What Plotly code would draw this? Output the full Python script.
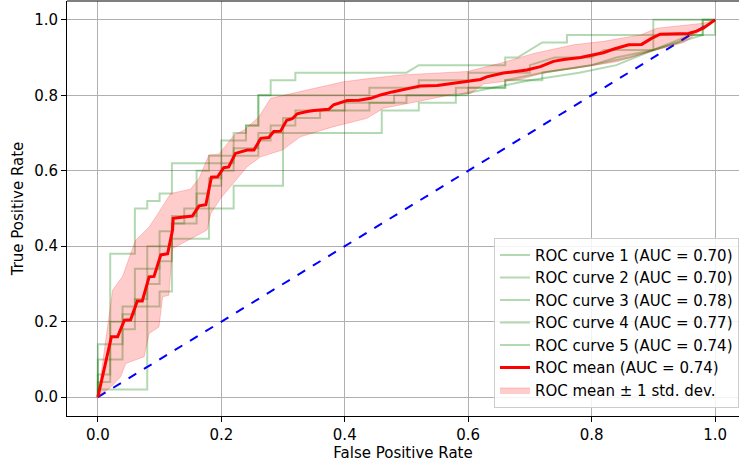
import plotly.graph_objects as go

# ---------------- data ----------------
curve_names = ["ROC curve 1 (AUC = 0.70)", "ROC curve 2 (AUC = 0.70)",
               "ROC curve 3 (AUC = 0.78)", "ROC curve 4 (AUC = 0.77)",
               "ROC curve 5 (AUC = 0.74)"]

c1_fpr = [0, 0, 0.08, 0.08, 0.10, 0.10, 0.12, 0.12, 0.18, 0.18, 0.22, 0.22, 0.30, 0.30, 0.46, 0.46, 0.52, 0.52, 0.58, 0.58, 0.64, 0.70, 0.78, 0.84, 0.90, 0.96, 0.98, 0.98, 1.0]
c1_tpr = [0, 0.02, 0.02, 0.24, 0.24, 0.28, 0.28, 0.42, 0.42, 0.50, 0.50, 0.56, 0.56, 0.70, 0.70, 0.76, 0.76, 0.78, 0.78, 0.80, 0.82, 0.84, 0.86, 0.88, 0.92, 0.96, 0.96, 1.0, 1.0]

c2_fpr = [0, 0, 0.02, 0.02, 0.04, 0.04, 0.06, 0.06, 0.08, 0.08, 0.10, 0.10, 0.12, 0.12, 0.16, 0.16, 0.18, 0.18, 0.20, 0.20, 0.22, 0.22, 0.26, 0.26, 0.30, 0.30, 0.36, 0.36, 0.44, 0.44, 0.50, 0.50, 0.58, 0.58, 0.66, 0.66, 0.72, 0.72, 0.80, 0.86, 0.90, 0.94, 0.98, 0.98, 1.0]
c2_tpr = [0, 0.10, 0.10, 0.14, 0.14, 0.22, 0.22, 0.26, 0.26, 0.34, 0.34, 0.40, 0.40, 0.46, 0.46, 0.54, 0.54, 0.58, 0.58, 0.62, 0.62, 0.66, 0.66, 0.70, 0.70, 0.74, 0.74, 0.76, 0.76, 0.78, 0.78, 0.80, 0.80, 0.82, 0.82, 0.84, 0.84, 0.86, 0.88, 0.90, 0.92, 0.94, 0.96, 1.0, 1.0]

c3_fpr = [0, 0, 0.02, 0.02, 0.06, 0.06, 0.08, 0.08, 0.10, 0.10, 0.12, 0.12, 0.20, 0.20, 0.22, 0.22, 0.24, 0.24, 0.26, 0.26, 0.28, 0.28, 0.32, 0.32, 0.50, 0.52, 0.66, 0.66, 0.68, 0.72, 0.76, 0.76, 0.90, 0.90, 1.0]
c3_tpr = [0, 0.04, 0.04, 0.38, 0.38, 0.50, 0.50, 0.52, 0.52, 0.54, 0.54, 0.62, 0.62, 0.68, 0.68, 0.70, 0.70, 0.72, 0.72, 0.80, 0.80, 0.84, 0.84, 0.86, 0.86, 0.88, 0.88, 0.90, 0.90, 0.94, 0.94, 0.96, 0.96, 1.0, 1.0]

c4_fpr = [0, 0, 0.02, 0.02, 0.04, 0.04, 0.06, 0.06, 0.08, 0.08, 0.10, 0.10, 0.12, 0.12, 0.16, 0.16, 0.18, 0.18, 0.22, 0.22, 0.24, 0.24, 0.26, 0.26, 0.44, 0.44, 0.52, 0.52, 0.60, 0.60, 0.70, 0.70, 0.74, 0.80, 0.82, 0.90, 0.90, 0.96, 0.98, 1.0]
c4_tpr = [0, 0.14, 0.14, 0.20, 0.20, 0.24, 0.24, 0.34, 0.34, 0.40, 0.40, 0.44, 0.44, 0.48, 0.48, 0.60, 0.60, 0.64, 0.64, 0.68, 0.68, 0.72, 0.72, 0.80, 0.80, 0.82, 0.82, 0.84, 0.84, 0.86, 0.86, 0.88, 0.90, 0.90, 0.92, 0.92, 0.96, 0.96, 0.98, 1.0]

c5_fpr = [0, 0, 0.02, 0.02, 0.04, 0.04, 0.06, 0.06, 0.08, 0.08, 0.10, 0.10, 0.12, 0.12, 0.14, 0.14, 0.18, 0.18, 0.20, 0.20, 0.22, 0.22, 0.26, 0.26, 0.28, 0.28, 0.32, 0.32, 0.40, 0.40, 0.48, 0.48, 0.60, 0.60, 0.66, 0.66, 0.72, 0.80, 0.84, 0.90, 0.94, 0.96, 1.0, 1.0]
c5_tpr = [0, 0.06, 0.06, 0.10, 0.10, 0.18, 0.18, 0.24, 0.24, 0.30, 0.30, 0.36, 0.36, 0.46, 0.46, 0.50, 0.50, 0.56, 0.56, 0.60, 0.60, 0.64, 0.64, 0.68, 0.68, 0.72, 0.72, 0.76, 0.76, 0.78, 0.78, 0.80, 0.80, 0.82, 0.82, 0.84, 0.86, 0.88, 0.90, 0.92, 0.94, 0.96, 0.96, 1.0]

mean_fpr = [0, 0.022, 0.032, 0.043, 0.053, 0.064, 0.072, 0.083, 0.091, 0.102, 0.113, 0.121, 0.122, 0.153, 0.164, 0.175, 0.184, 0.194, 0.204, 0.212, 0.223, 0.242, 0.253, 0.264, 0.277, 0.285, 0.296, 0.306, 0.315, 0.323, 0.339, 0.35, 0.374, 0.382, 0.404, 0.423, 0.442, 0.458, 0.477, 0.523, 0.55, 0.582, 0.604, 0.62, 0.63, 0.657, 0.695, 0.717, 0.738, 0.755, 0.782, 0.819, 0.835, 0.86, 0.881, 0.897, 0.911, 0.957, 0.97, 0.981, 1.0]
mean_tpr = [0, 0.16, 0.16, 0.204, 0.205, 0.255, 0.255, 0.319, 0.32, 0.377, 0.38, 0.443, 0.474, 0.48, 0.507, 0.51, 0.583, 0.584, 0.608, 0.61, 0.646, 0.655, 0.655, 0.686, 0.688, 0.704, 0.705, 0.734, 0.738, 0.751, 0.757, 0.76, 0.763, 0.775, 0.786, 0.787, 0.792, 0.801, 0.809, 0.825, 0.826, 0.834, 0.839, 0.842, 0.849, 0.859, 0.867, 0.876, 0.89, 0.895, 0.9, 0.913, 0.922, 0.934, 0.935, 0.951, 0.962, 0.964, 0.97, 0.978, 1.0]

upper_fpr = [0, 0.024, 0.04, 0.061, 0.075, 0.083, 0.096, 0.118, 0.15, 0.164, 0.18, 0.196, 0.221, 0.237, 0.261, 0.28, 0.328, 0.398, 0.442, 0.49, 0.598, 0.652, 0.706, 0.771, 0.819, 0.879, 0.906, 0.981, 1.0]
upper_tpr = [0, 0.284, 0.32, 0.416, 0.438, 0.451, 0.483, 0.54, 0.551, 0.58, 0.642, 0.644, 0.695, 0.708, 0.743, 0.792, 0.81, 0.836, 0.845, 0.854, 0.863, 0.885, 0.911, 0.934, 0.943, 0.96, 0.978, 0.991, 1.0]

lower_fpr = [0, 0.021, 0.037, 0.045, 0.075, 0.083, 0.099, 0.105, 0.115, 0.121, 0.151, 0.177, 0.183, 0.199, 0.215, 0.242, 0.264, 0.299, 0.328, 0.382, 0.436, 0.463, 0.517, 0.582, 0.604, 0.625, 0.684, 0.728, 0.776, 0.841, 0.9, 0.95, 1.0]
lower_tpr = [0, 0.027, 0.054, 0.089, 0.107, 0.169, 0.186, 0.266, 0.27, 0.394, 0.42, 0.443, 0.487, 0.527, 0.558, 0.611, 0.637, 0.655, 0.69, 0.717, 0.739, 0.766, 0.783, 0.805, 0.805, 0.83, 0.842, 0.862, 0.872, 0.889, 0.918, 0.94, 1.0]

diag = [0, 1]
ticks = [0.0, 0.2, 0.4, 0.6, 0.8, 1.0]
tick_text = ["0.0", "0.2", "0.4", "0.6", "0.8", "1.0"]

# ---------------- figure ----------------
FONT = "DejaVu Sans"
FS = 15
fig = go.Figure()

curves = [(c1_fpr, c1_tpr), (c2_fpr, c2_tpr), (c3_fpr, c3_tpr), (c4_fpr, c4_tpr), (c5_fpr, c5_tpr)]
for i, ((fx, fy), nm) in enumerate(zip(curves, curve_names)):
    fig.add_trace(go.Scatter(x=fx, y=fy, mode="lines", name=nm,
                             line=dict(color="rgba(0,128,0,0.3)", width=2),
                             legendrank=i + 1))

fig.add_trace(go.Scatter(x=diag, y=diag, mode="lines", showlegend=False,
                         line=dict(color="blue", width=2, dash="dash")))

fig.add_trace(go.Scatter(x=lower_fpr, y=lower_tpr, mode="lines", showlegend=False,
                         line=dict(color="rgba(255,0,0,0.2)", width=1)))
fig.add_trace(go.Scatter(x=upper_fpr, y=upper_tpr, mode="lines", fill="tonexty",
                         fillcolor="rgba(255,0,0,0.2)", name="ROC mean ± 1 std. dev.",
                         line=dict(color="rgba(255,0,0,0.2)", width=1), legendrank=7))

fig.add_trace(go.Scatter(x=mean_fpr, y=mean_tpr, mode="lines", name="ROC mean (AUC = 0.74)",
                         line=dict(color="red", width=3), legendrank=6))

axis_common = dict(showgrid=True, gridcolor="#b0b0b0", gridwidth=1,
                   showline=True, linecolor="black", linewidth=1,
                   ticks="outside", ticklen=5, tickcolor="black",
                   tickvals=ticks, ticktext=tick_text, zeroline=False,
                   tickfont=dict(family=FONT, size=FS, color="black"))

fig.update_layout(
    width=739, height=468,
    margin=dict(l=67, r=0, t=1, b=52),
    plot_bgcolor="white", paper_bgcolor="white",
    font=dict(family=FONT, size=FS, color="black"),
    xaxis=dict(range=[-0.05, 1.0388], title=dict(text="False Positive Rate",
               font=dict(family=FONT, size=FS), standoff=4), **axis_common),
    yaxis=dict(range=[-0.05, 1.05], title=dict(text="True Positive Rate",
               font=dict(family=FONT, size=FS), standoff=6), **axis_common),
    legend=dict(x=1.0, xanchor="right", y=0.02, yanchor="bottom",
                bgcolor="rgba(255,255,255,0.85)", bordercolor="#cccccc", borderwidth=1,
                font=dict(family=FONT, size=FS, color="black"),
                traceorder="normal", tracegroupgap=0),
    shapes=[dict(type="line", xref="paper", yref="paper", x0=0, x1=1, y0=1, y1=1,
                 line=dict(color="black", width=1))],
)

fig.write_html("out.html")
